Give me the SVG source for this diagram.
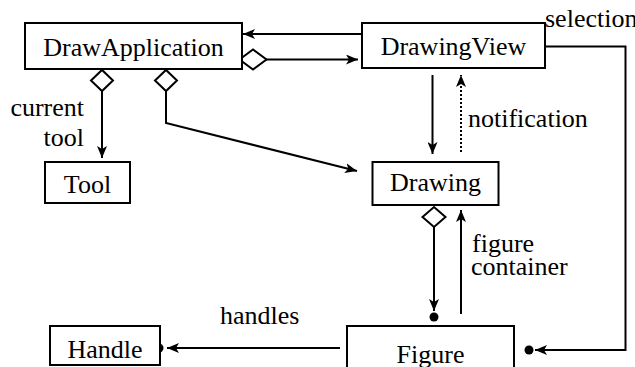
<svg xmlns="http://www.w3.org/2000/svg" width="635" height="367" viewBox="0 0 635 367">
<style>
.box{fill:#fff;stroke:#000;stroke-width:2}
text{font-family:"Times New Roman",Times,"Liberation Serif",Tinos,"DejaVu Serif","Noto Serif",serif;font-size:26px;fill:#000}
.mid{text-anchor:middle}
.end{text-anchor:end}
.ln{fill:none;stroke:#000;stroke-width:2}
.dot{fill:none;stroke:#000;stroke-width:2;stroke-dasharray:2,2}
.dia{fill:#fff;stroke:#000;stroke-width:2}
</style>
<defs>
<marker id="arr" viewBox="0 0 12 10" refX="12" refY="5" markerWidth="12" markerHeight="10" markerUnits="userSpaceOnUse" orient="auto">
<path d="M0,0 L12,5 L0,10 L3,5 z" fill="#000"/>
</marker>
</defs>
<rect width="635" height="367" fill="#fff"/>
<g id="connectors">
<polyline class="ln" points="362,34 243,34" marker-end="url(#arr)"/>
<polyline class="ln" points="266,59.5 358,59.5" marker-end="url(#arr)"/>
<polygon class="dia" points="239.5,59.5 253,49.5 266.5,59.5 253,69.5"/>
<polyline class="ln" points="102,91 102,158" marker-end="url(#arr)"/>
<polygon class="dia" points="91,80.5 102,70 113,80.5 102,91"/>
<polyline class="ln" points="166,91 166,123 357,171" marker-end="url(#arr)"/>
<polygon class="dia" points="155,80.5 166,70 177,80.5 166,91"/>
<polyline class="ln" points="432.5,75 432.5,154" marker-end="url(#arr)"/>
<polyline class="dot" points="461,152 461,75" marker-end="url(#arr)"/>
<polyline class="ln" points="434,227 434,311" marker-end="url(#arr)"/>
<polygon class="dia" points="422.5,217 434,207 445.5,217 434,227"/>
<circle cx="434" cy="317" r="4.5" fill="#000"/>
<polyline class="ln" points="461,314 461,210" marker-end="url(#arr)"/>
<polyline class="ln" points="545,46.5 625.5,46.5 625.5,350 535,350" marker-end="url(#arr)"/>
<circle cx="529" cy="350" r="4.5" fill="#000"/>
<polyline class="ln" points="340,348 167,348" marker-end="url(#arr)"/>
<circle cx="159" cy="348" r="4.5" fill="#000"/>
</g>
<g id="DrawApplication">
<rect class="box" x="25" y="23" width="217" height="46"/>
<text class="mid" x="133.5" y="56">DrawApplication</text>
</g>
<g id="DrawingView">
<rect class="box" x="362" y="23" width="183" height="45"/>
<text class="mid" x="453.5" y="55">DrawingView</text>
</g>
<g id="Tool">
<rect class="box" x="45" y="162" width="85" height="41"/>
<text class="mid" x="87.5" y="193">Tool</text>
</g>
<g id="Drawing">
<rect class="box" x="372.5" y="162" width="126" height="43"/>
<text class="mid" x="435.5" y="191">Drawing</text>
</g>
<g id="Handle">
<rect class="box" x="50" y="326" width="110" height="39"/>
<text class="mid" x="105" y="358">Handle</text>
</g>
<g id="Figure">
<rect class="box" x="347" y="326" width="167" height="46"/>
<text class="mid" x="430.5" y="363">Figure</text>
</g>
<g id="labels">
<text class="end" x="84" y="116">current</text>
<text class="end" x="84" y="146">tool</text>
<text x="468" y="127">notification</text>
<text x="545" y="27">selection</text>
<text x="472" y="252">figure</text>
<text x="471" y="275">container</text>
<text x="220" y="324">handles</text>
</g>
</svg>
